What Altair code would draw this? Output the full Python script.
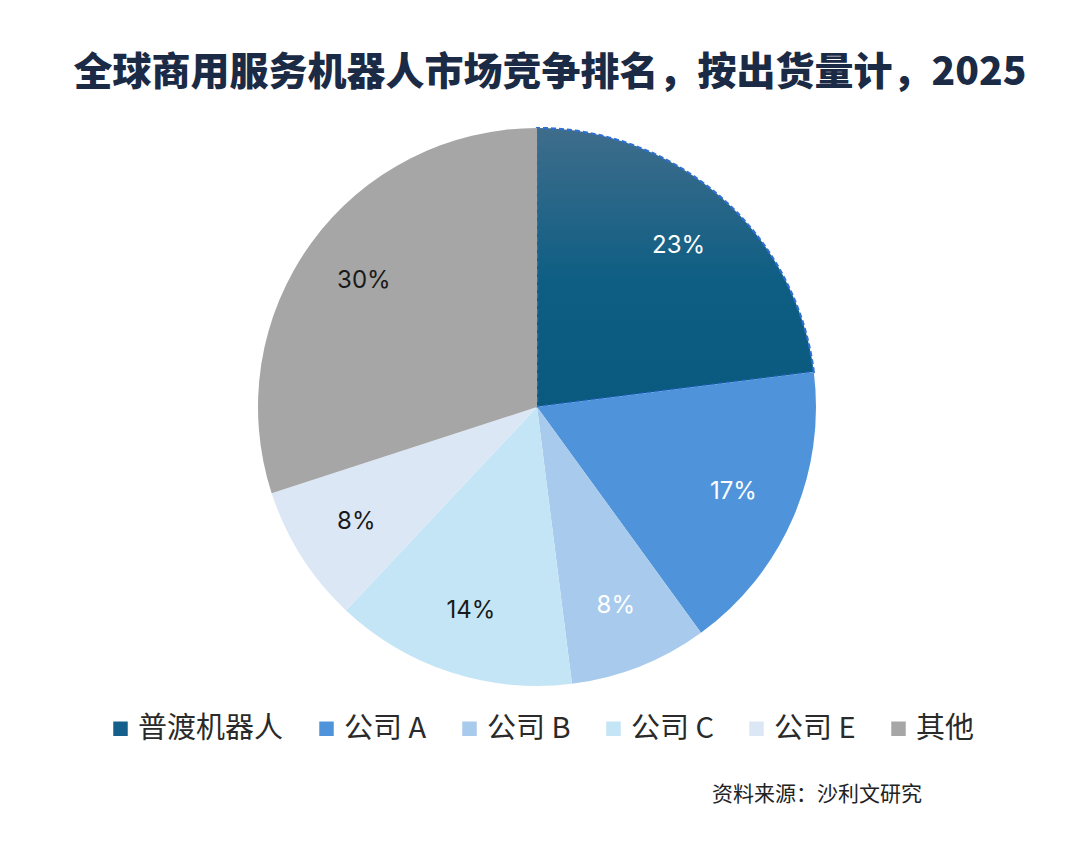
import altair as alt
import pandas as pd

companies = ["普渡机器人", "公司 A", "公司 B", "公司 C", "公司 E", "其他"]
shares = [23, 17, 8, 14, 8, 30]
order_idx = [0, 1, 2, 3, 4, 5]
colors = ["#15608A", "#4F94DA", "#A8CAEC", "#C4E5F5", "#DCE7F6", "#A6A6A6"]

title_text = "全球商用服务机器人市场竞争排名，按出货量计，2025"
source_text = ["资料来源：沙利文研究"]

df = pd.DataFrame({"company": companies, "share": shares, "idx": order_idx})

CX, CY, R = 529, 299, 279

gradient = {
    "gradient": "linear",
    "x1": 0, "y1": 0, "x2": 0, "y2": 1,
    "stops": [
        {"offset": 0, "color": "#3F6D8B"},
        {"offset": 0.55, "color": "#0E5E84"},
        {"offset": 1, "color": "#0A5A80"},
    ],
}

is_pudu = alt.datum.idx == 0

base = alt.Chart(df).transform_calculate(label="datum.share + '%'")

arcs = base.mark_arc(radius=R, strokeDash=[5, 3]).encode(
    theta=alt.Theta("share:Q", stack=True),
    order=alt.Order("idx:Q", sort="ascending"),
    x=alt.value(CX),
    y=alt.value(CY),
    fill=alt.condition(
        is_pudu,
        alt.value(gradient),
        alt.Color(
            "company:N",
            scale=alt.Scale(domain=companies, range=colors),
            sort=companies,
            legend=alt.Legend(
                title=None,
                orient="none",
                legendX=98,
                legendY=606,
                direction="horizontal",
                columns=6,
                symbolType="square",
                symbolSize=210,
                symbolStrokeWidth=0,
                labelFont="Noto Sans CJK SC",
                labelFontSize=29,
                labelColor="#2a2a2a",
                labelOffset=3,
                columnPadding=28,
                symbolOpacity=1,
            ),
        ),
    ),
    stroke=alt.condition(is_pudu, alt.value("#2E6FD3"), alt.value("transparent")),
    strokeWidth=alt.condition(is_pudu, alt.value(2.2), alt.value(0)),
)

labels = base.mark_text(
    radius=214, font="Inter", fontSize=24, fontWeight=400
).encode(
    theta=alt.Theta("share:Q", stack=True),
    order=alt.Order("idx:Q", sort="ascending"),
    x=alt.value(CX),
    y=alt.value(CY),
    text="label:N",
    color=alt.condition("datum.idx < 3", alt.value("#ffffff"), alt.value("#1a1a1a")),
)

src = alt.Chart(pd.DataFrame({"t": source_text})).mark_text(
    font="Noto Sans CJK SC", fontSize=21, color="#222222", align="right", baseline="middle"
).encode(
    text="t:N",
    x=alt.value(914),
    y=alt.value(687),
)

chart = alt.layer(arcs, labels, src).properties(
    width=1064,
    height=751,
    padding={"top": 100, "left": 0, "right": 0, "bottom": 0},
    autosize=alt.AutoSizeParams(type="none"),
    background="white",
    title=alt.TitleParams(
        title_text,
        font="Noto Sans CJK SC",
        fontSize=39,
        fontWeight=900,
        color="#1B2B45",
        anchor="middle",
        frame="group",
        offset=15,
        dx=10,
    ),
).configure_view(strokeWidth=0, stroke="transparent")

chart.save("out.html", embed_options={"renderer": "svg", "actions": False})
